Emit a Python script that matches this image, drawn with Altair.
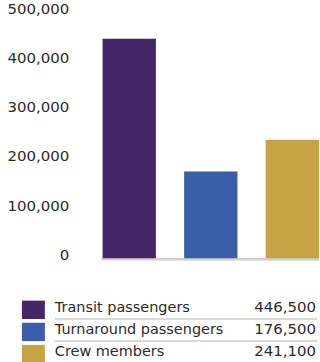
import altair as alt
import pandas as pd

categories = ["Transit passengers", "Turnaround passengers", "Crew members"]
values = [446500, 176500, 241100]
colors = ["#452767", "#3b5ea9", "#c6a446"]
y_ticks = [0, 100000, 200000, 300000, 400000, 500000]

df = pd.DataFrame({"category": categories, "value": values})

FONT = "DejaVu Sans"
TEXT = "#2b2b2b"

color_enc = alt.Color("category:N", scale=alt.Scale(domain=categories, range=colors), legend=None)

bars = alt.Chart(df).mark_bar().encode(
    x=alt.X("category:N", sort=categories, axis=None,
            scale=alt.Scale(domain=categories, paddingInner=0.346, paddingOuter=0.629, align=1)),
    y=alt.Y("value:Q",
            scale=alt.Scale(domain=[0, 500000], nice=False),
            axis=alt.Axis(values=y_ticks, format=",.0f", offset=-69, labelPadding=0,
                          ticks=False, tickSize=0, domain=False, grid=False,
                          labelFont=FONT, labelFontSize=15, labelColor=TEXT,
                          labelBaseline="alphabetic", labelAlign="right", labelOffset=1,
                          title=None)),
    color=color_enc,
)

baseline = alt.Chart(df).mark_rule(color="#d0d0d0", strokeWidth=2, yOffset=1).encode(
    y=alt.datum(0), x=alt.value(102), x2=alt.value(320)
)

top = alt.layer(baseline, bars).properties(width=320, height=246.5)

ysc = alt.Scale(domain=categories, paddingInner=0.17, paddingOuter=0)

swatch = alt.Chart(df).mark_rect().encode(
    y=alt.Y("category:N", sort=categories, axis=None, scale=ysc),
    x=alt.value(22), x2=alt.value(45),
    color=color_enc,
)

labels = alt.Chart(df).mark_text(align="left", baseline="alphabetic", dy=-7,
                                 font=FONT, fontSize=14.5, color=TEXT).encode(
    y=alt.Y("category:N", sort=categories, axis=None, scale=ysc, bandPosition=1),
    x=alt.value(55),
    text="category:N",
)

nums = alt.Chart(df).mark_text(align="right", baseline="alphabetic", dy=-7,
                               font=FONT, fontSize=15, color=TEXT).encode(
    y=alt.Y("category:N", sort=categories, axis=None, scale=ysc, bandPosition=1),
    x=alt.value(317),
    text=alt.Text("value:Q", format=","),
)

seps = alt.Chart(df).transform_filter(
    alt.FieldOneOfPredicate(field="category", oneOf=categories[:2])
).mark_rule(color="#cccccc", strokeWidth=1.5).encode(
    y=alt.Y("category:N", sort=categories, axis=None, scale=ysc, bandPosition=1),
    x=alt.value(55), x2=alt.value(318),
)

legend = alt.layer(swatch, seps, labels, nums).properties(width=320, height=62.8)

chart = alt.vconcat(top, legend, spacing=37).properties(
    padding={"left": 0, "top": 1, "right": 0, "bottom": 0}
).configure_view(stroke=None)

chart.save("out.html", embed_options={"renderer": "svg", "actions": False})
